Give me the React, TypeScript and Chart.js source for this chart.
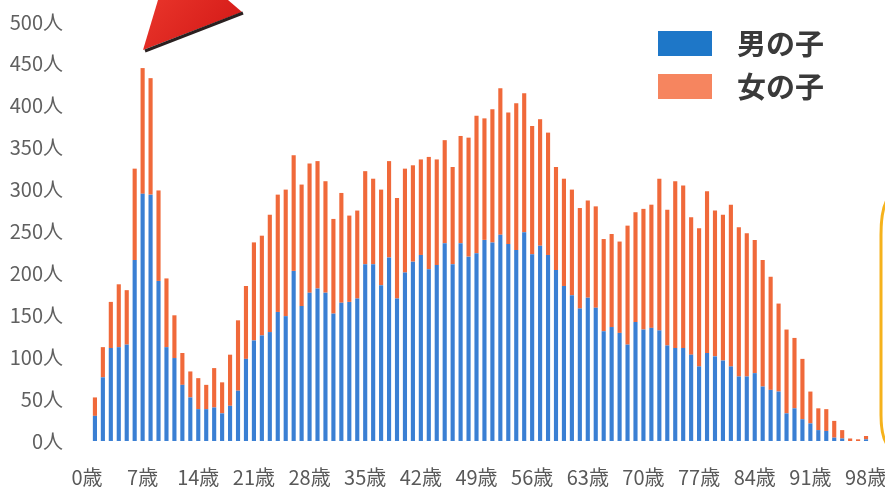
import { useEffect, useRef } from 'react';
import { Chart, registerables } from 'chart.js';

Chart.register(...registerables);

// Ages (categories), 0歳 .. 98歳
const ages = [
  0, 1, 2, 3, 4, 5, 6, 7, 8, 9,
  10, 11, 12, 13, 14, 15, 16, 17, 18, 19,
  20, 21, 22, 23, 24, 25, 26, 27, 28, 29,
  30, 31, 32, 33, 34, 35, 36, 37, 38, 39,
  40, 41, 42, 43, 44, 45, 46, 47, 48, 49,
  50, 51, 52, 53, 54, 55, 56, 57, 58, 59,
  60, 61, 62, 63, 64, 65, 66, 67, 68, 69,
  70, 71, 72, 73, 74, 75, 76, 77, 78, 79,
  80, 81, 82, 83, 84, 85, 86, 87, 88, 89,
  90, 91, 92, 93, 94, 95, 96, 97, 98,
];

const labelStep = 7;
const ageSuffix = '歳';
const personSuffix = '人';
const yMax = 500;
const yStep = 50;

const seriesNames = ['男の子', '女の子'];

// 男の子
const boys = [
  0, 30, 76, 111, 112, 115, 216, 295, 294, 191,
  112, 99, 67, 52, 38, 38, 40, 33, 42, 60,
  98, 120, 126, 130, 154, 149, 203, 161, 177, 182,
  177, 152, 165, 166, 170, 211, 211, 186, 219, 170,
  201, 214, 222, 205, 210, 236, 211, 236, 220, 224,
  240, 237, 246, 235, 228, 249, 223, 233, 222, 204,
  185, 174, 158, 171, 159, 131, 136, 129, 115, 142,
  133, 135, 132, 114, 111, 111, 103, 89, 105, 101,
  96, 89, 77, 77, 81, 65, 61, 59, 33, 39,
  26, 21, 13, 12, 4, 3, 0, 0, 2,
];

// 女の子
const girls = [
  0, 22, 36, 55, 75, 65, 109, 150, 139, 108,
  82, 51, 38, 31, 37, 29, 47, 37, 61, 84,
  87, 117, 119, 140, 140, 151, 138, 145, 154, 152,
  133, 113, 131, 103, 105, 111, 102, 114, 115, 120,
  124, 115, 114, 134, 126, 123, 116, 128, 142, 164,
  145, 159, 175, 157, 175, 166, 153, 151, 146, 123,
  128, 126, 120, 116, 121, 110, 111, 109, 142, 131,
  144, 147, 181, 162, 199, 194, 164, 165, 193, 174,
  174, 193, 178, 171, 159, 151, 135, 105, 100, 84,
  72, 38, 26, 26, 20, 10, 3, 2, 4,
];

const barColors = ['#3a7fd3', '#f0693a'];
const legendColors = ['#1e77c8', '#f6855f'];

const FONT = '"Noto Sans CJK JP", "Noto Sans", sans-serif';

const cornerLegend = {
  id: 'cornerLegend',
  afterDraw(chart: any) {
    const ctx = chart.ctx;
    ctx.save();
    chart.data.datasets.forEach((ds: any, i: number) => {
      const y = 31 + i * 43;
      ctx.fillStyle = legendColors[i];
      ctx.fillRect(658, y, 54, 25);
      ctx.fillStyle = '#3a3a3a';
      ctx.font = `bold 29px ${FONT}`;
      ctx.textBaseline = 'middle';
      ctx.textAlign = 'left';
      ctx.fillText(ds.label, 737, y + 13);
    });
    ctx.restore();
  },
};

const decorations = {
  id: 'decorations',
  afterDraw(chart: any) {
    const ctx = chart.ctx;
    ctx.save();
    // red pointer shape (top)
    ctx.beginPath();
    ctx.moveTo(143, 50);
    ctx.lineTo(158, 0);
    ctx.lineTo(228, 0);
    ctx.lineTo(242, 12);
    ctx.closePath();
    const g = ctx.createLinearGradient(150, 0, 200, 45);
    g.addColorStop(0, '#e8342a');
    g.addColorStop(1, '#d9201c');
    ctx.fillStyle = g;
    ctx.fill();
    ctx.strokeStyle = '#2a2020';
    ctx.lineWidth = 3;
    ctx.beginPath();
    ctx.moveTo(145, 51);
    ctx.lineTo(243, 13);
    ctx.stroke();
    // yellow rounded frame edge on the right
    ctx.strokeStyle = '#f5b21c';
    ctx.lineWidth = 3;
    ctx.beginPath();
    ctx.moveTo(890, 196);
    ctx.quadraticCurveTo(881, 205, 881, 235);
    ctx.lineTo(881, 415);
    ctx.quadraticCurveTo(881, 440, 890, 448);
    ctx.stroke();
    ctx.restore();
  },
};

export default function App() {
  const canvasRef = useRef<HTMLCanvasElement | null>(null);

  useEffect(() => {
    const canvas = canvasRef.current;
    if (!canvas) return;
    const chart = new Chart(canvas, {
      type: 'bar',
      data: {
        labels: ages.map((a) => `${a}${ageSuffix}`),
        datasets: [
          {
            label: seriesNames[0],
            data: boys,
            backgroundColor: barColors[0],
            barPercentage: 0.52,
            categoryPercentage: 1,
          },
          {
            label: seriesNames[1],
            data: girls,
            backgroundColor: barColors[1],
            barPercentage: 0.52,
            categoryPercentage: 1,
          },
        ],
      },
      options: {
        responsive: false,
        animation: false,
        layout: { padding: { left: 8, right: 15, top: 22, bottom: 0 } },
        plugins: {
          legend: { display: false },
          tooltip: { enabled: false },
        },
        scales: {
          x: {
            stacked: true,
            grid: { display: false, drawTicks: false },
            border: { display: false },
            ticks: {
              autoSkip: false,
              maxRotation: 0,
              minRotation: 0,
              padding: 24,
              color: '#595959',
              font: { family: FONT, size: 20 },
              callback: (_v: any, i: number) =>
                i % labelStep === 0 ? `${ages[i]}${ageSuffix}` : '',
            },
            afterFit: (scale: any) => {
              scale.height = 48;
              scale.paddingLeft = 0;
              scale.paddingRight = 0;
            },
          },
          y: {
            stacked: true,
            min: 0,
            max: yMax,
            grid: { display: false, drawTicks: false },
            border: { display: false },
            ticks: {
              stepSize: yStep,
              padding: 20,
              color: '#606060',
              font: { family: FONT, size: 20 },
              callback: (v: any) => `${v}${personSuffix}`,
            },
            afterFit: (scale: any) => {
              scale.width = 75;
              scale.paddingTop = 0;
              scale.paddingBottom = 0;
            },
          },
        },
      },
      plugins: [cornerLegend, decorations],
    });
    return () => chart.destroy();
  }, []);

  return (
    <div style={{ position: 'fixed', left: 0, top: 0, width: 885, height: 489, background: '#fff' }}>
      <canvas ref={canvasRef} width={885} height={489} style={{ display: 'block' }} />
    </div>
  );
}
